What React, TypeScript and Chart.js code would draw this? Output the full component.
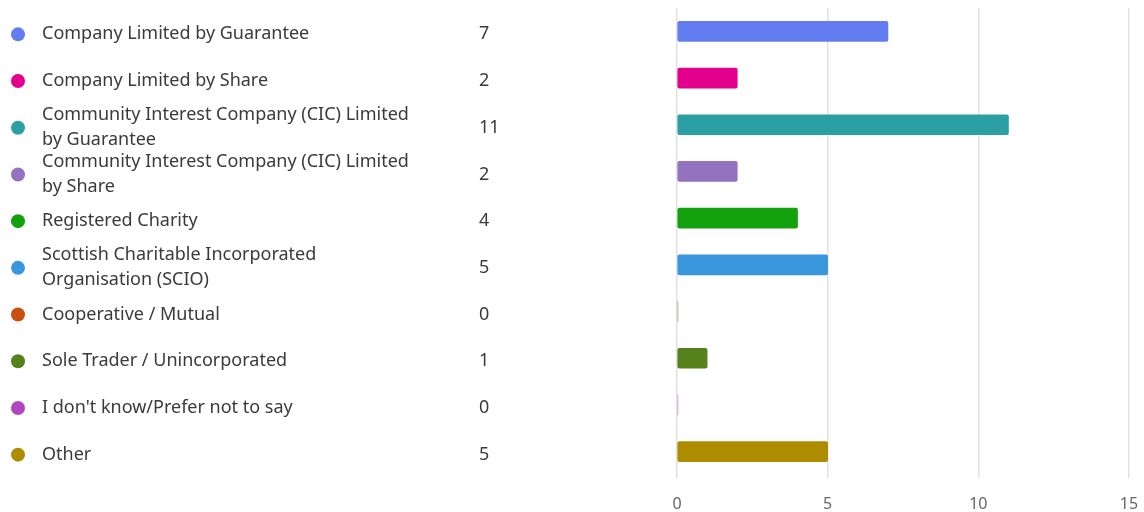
import React, { useEffect, useRef } from "react";
import { Chart, registerables } from "chart.js";

Chart.register(...registerables);

const categories: string[][] = [
  ["Company Limited by Guarantee"],
  ["Company Limited by Share"],
  ["Community Interest Company (CIC) Limited", "by Guarantee"],
  ["Community Interest Company (CIC) Limited", "by Share"],
  ["Registered Charity"],
  ["Scottish Charitable Incorporated", "Organisation (SCIO)"],
  ["Cooperative / Mutual"],
  ["Sole Trader / Unincorporated"],
  ["I don't know/Prefer not to say"],
  ["Other"],
];
const counts: number[] = [7, 2, 11, 2, 4, 5, 0, 1, 0, 5];
const colors: string[] = [
  "#637CEF", "#E3008C", "#2AA0A4", "#9373C0", "#13A10E",
  "#3A96DD", "#CA5010", "#57811B", "#B146C2", "#AE8C00",
];
const xTicks: number[] = [0, 5, 10, 15];

const FONT = '"Noto Sans", "Open Sans", sans-serif';

const legendPlugin = {
  id: "sideLegend",
  afterDraw(chart: any) {
    const ctx = chart.ctx as CanvasRenderingContext2D;
    const yScale = chart.scales.y;
    ctx.save();
    ctx.textBaseline = "middle";
    ctx.font = `18px ${FONT}`;
    categories.forEach((lines, i) => {
      const cy = yScale.getPixelForValue(i) + 3;
      ctx.fillStyle = colors[i];
      ctx.beginPath();
      ctx.arc(18, cy, 7, 0, Math.PI * 2);
      ctx.fill();
      ctx.fillStyle = "#3b3a39";
      ctx.textAlign = "left";
      const lh = 25;
      const start = cy - ((lines.length - 1) * lh) / 2;
      lines.forEach((t, k) => ctx.fillText(t, 42, start + k * lh));
      ctx.fillText(String(counts[i]), 479, cy);
    });
    ctx.restore();
  },
};

export default function App() {
  const ref = useRef<HTMLCanvasElement | null>(null);
  useEffect(() => {
    document.body.style.margin = "0";
    const chart = new Chart(ref.current as HTMLCanvasElement, {
      type: "bar",
      data: {
        labels: categories.map((c) => c.join(" ")),
        datasets: [
          {
            data: counts,
            backgroundColor: colors.map((c, i) => (counts[i] === 0 ? c + "80" : c)),
            borderRadius: 2,
            borderSkipped: false,
            barThickness: 20,
            minBarLength: 1,
          },
        ],
      },
      options: {
        indexAxis: "y",
        animation: false,
        responsive: false,
        maintainAspectRatio: false,
        layout: { padding: { left: 677, right: 15, top: 8, bottom: 0 } },
        plugins: { legend: { display: false }, tooltip: { enabled: false } },
        scales: {
          x: {
            min: 0,
            max: 15,
            afterBuildTicks: (axis: any) => {
              axis.ticks = xTicks.map((v) => ({ value: v }));
            },
            afterFit: (axis: any) => {
              axis.height = 37;
              axis.paddingLeft = 0;
              axis.paddingRight = 0;
            },
            grid: { color: "#e1e1e1", lineWidth: 1.5, tickLength: 3, drawTicks: true },
            border: { display: false },
            ticks: { color: "#666666", font: { size: 16, family: FONT }, padding: 17, maxRotation: 0 },
          },
          y: { display: false },
        },
      },
      plugins: [legendPlugin],
    } as any);
    return () => chart.destroy();
  }, []);
  return (
    <div style={{ position: "fixed", left: 0, top: 0, width: 1144, height: 512, background: "#fff" }}>
      <canvas ref={ref} width={1144} height={512} />
    </div>
  );
}
